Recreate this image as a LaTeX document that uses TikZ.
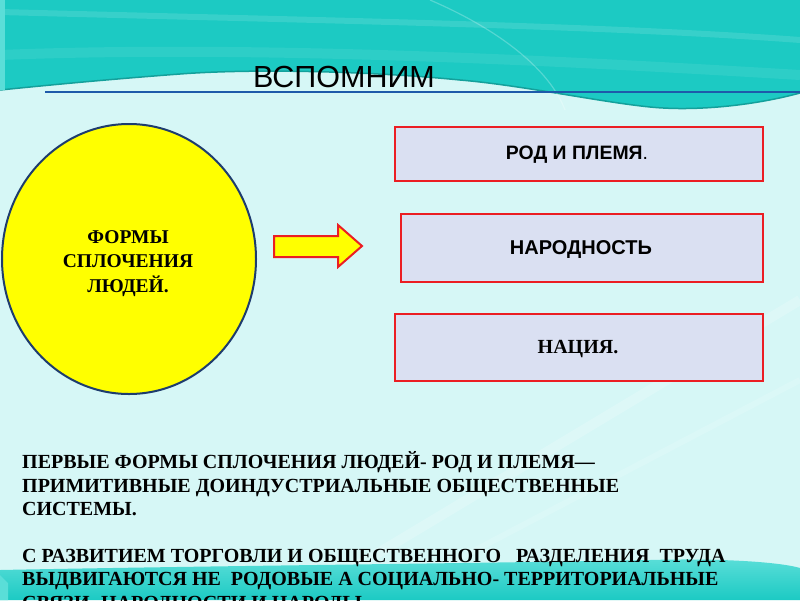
\documentclass[tikz,border=0pt]{standalone}
\usepackage{fontspec}
\usetikzlibrary{shapes.geometric}
\setmainfont{Liberation Serif}
\newfontfamily\arialf{Liberation Sans}
\definecolor{bgc}{RGB}{214,247,246}
\definecolor{tealband}{RGB}{28,202,195}
\definecolor{teallight}{RGB}{90,222,216}
\definecolor{tealdark}{RGB}{20,160,155}
\definecolor{boxfill}{RGB}{218,224,242}
\definecolor{boxred}{RGB}{235,30,35}
\definecolor{yel}{RGB}{255,255,0}
\definecolor{navy}{RGB}{30,60,110}
\definecolor{bluel}{RGB}{30,90,170}
\begin{document}
\begin{tikzpicture}[x=1pt,y=-1pt,
  formbox/.style={draw=boxred, line width=2.2pt, fill=boxfill, inner sep=0pt, anchor=north west},
  boxtextsans/.style={font=\arialf\bfseries\fontsize{19.4}{22}\selectfont, anchor=base, inner sep=0pt},
  boxtextserif/.style={font=\bfseries\fontsize{20}{22}\selectfont, anchor=base, inner sep=0pt},
  ovaltext/.style={font=\bfseries\fontsize{19.5}{22}\selectfont, anchor=base, inner sep=0pt},
  bodytext/.style={font=\bfseries\fontsize{20}{24}\selectfont, anchor=base west, inner sep=0pt},
  streak/.style={white, opacity=0.12, line width=6pt}]
\useasboundingbox (0,0) rectangle (800,600);
\clip (0,0) rectangle (800,600);
% background
\fill[bgc] (0,0) rectangle (800,600);
\draw[white, opacity=0.18, line width=10pt] (300,600) -- (800,300);
\draw[white, opacity=0.14, line width=6pt] (380,600) -- (800,380);
% top band
\fill[tealband] (0,0) -- (800,0) -- (800,93)
  .. controls (760,104) and (700,112) .. (650,107)
  .. controls (600,102) and (520,85) .. (460,80)
  .. controls (380,72) and (260,68) .. (180,74)
  .. controls (100,80) and (40,86) .. (0,90) -- cycle;
\draw[tealdark, line width=1.5pt] (800,93)
  .. controls (760,104) and (700,112) .. (650,107)
  .. controls (600,102) and (520,85) .. (460,80)
  .. controls (380,72) and (260,68) .. (180,74)
  .. controls (100,80) and (40,86) .. (0,90);
\draw[streak] (0,12) .. controls (300,20) and (600,25) .. (800,40);
\draw[streak, opacity=0.08, line width=10pt] (0,55) .. controls (250,45) and (550,60) .. (800,75);
\draw[white, opacity=0.25, line width=1.2pt] (430,0) .. controls (500,30) and (550,70) .. (565,110);
\fill[teallight] (0,0) rectangle (5,90);
% blue rule
\draw[bluel, line width=2pt] (45,92) -- (800,92);
% bottom band
\shade[top color=teallight, bottom color=tealband] (0,570)
  .. controls (200,566) and (500,563) .. (650,560)
  .. controls (720,558) and (780,562) .. (800,568) -- (800,600) -- (0,600) -- cycle;
\fill[teallight] (0,575) -- (8,583) -- (8,600) -- (0,600) -- cycle;
% title
\node[font=\arialf\fontsize{30.5}{32}\selectfont, anchor=base, inner sep=0pt] (title) at (344,87) {ВСПОМНИМ};
% oval
\node[draw=navy, line width=2pt, fill=yel, ellipse, minimum width=254pt, minimum height=270pt, inner sep=0pt] (forms) at (129,259) {};
\node[ovaltext] (f1) at (128,243) {ФОРМЫ};
\node[ovaltext] (f2) at (128,267) {СПЛОЧЕНИЯ};
\node[ovaltext] (f3) at (128,292) {ЛЮДЕЙ.};
% block arrow
\draw[boxred, line width=2pt, fill=yel, line join=miter] (274,236) -- (338,236) -- (338,225) -- (362,246) -- (338,267) -- (338,257) -- (274,257) -- cycle;
% boxes
\node[formbox, minimum width=368pt, minimum height=54pt] (b1) at (394,126) {};
\node[formbox, minimum width=362pt, minimum height=68pt] (b2) at (400,213) {};
\node[formbox, minimum width=368pt, minimum height=67pt] (b3) at (394,313) {};
\node[boxtextsans] (t1) at (577,159) {РОД И ПЛЕМЯ{\mdseries.}};
\node[boxtextsans, font=\arialf\bfseries\fontsize{20}{22}\selectfont] (t2) at (581,254) {НАРОДНОСТЬ};
\node[boxtextserif] (t3) at (578,353) {НАЦИЯ.};
% body text
\node[bodytext] (l1) at (22,468) {ПЕРВЫЕ ФОРМЫ СПЛОЧЕНИЯ ЛЮДЕЙ- РОД И ПЛЕМЯ—};
\node[bodytext] (l2) at (22,492) {ПРИМИТИВНЫЕ ДОИНДУСТРИАЛЬНЫЕ ОБЩЕСТВЕННЫЕ};
\node[bodytext] (l3) at (22,515) {СИСТЕМЫ.};
\node[bodytext] (l4) at (22,562) {С РАЗВИТИЕМ ТОРГОВЛИ И ОБЩЕСТВЕННОГО\ \ \ РАЗДЕЛЕНИЯ\ \ ТРУДА};
\node[bodytext] (l5) at (22,585) {ВЫДВИГАЮТСЯ НЕ\ \ РОДОВЫЕ А СОЦИАЛЬНО- ТЕРРИТОРИАЛЬНЫЕ};
\node[bodytext] (l6) at (22,609) {СВЯЗИ- НАРОДНОСТИ И НАРОДЫ.};
\end{tikzpicture}
\end{document}
